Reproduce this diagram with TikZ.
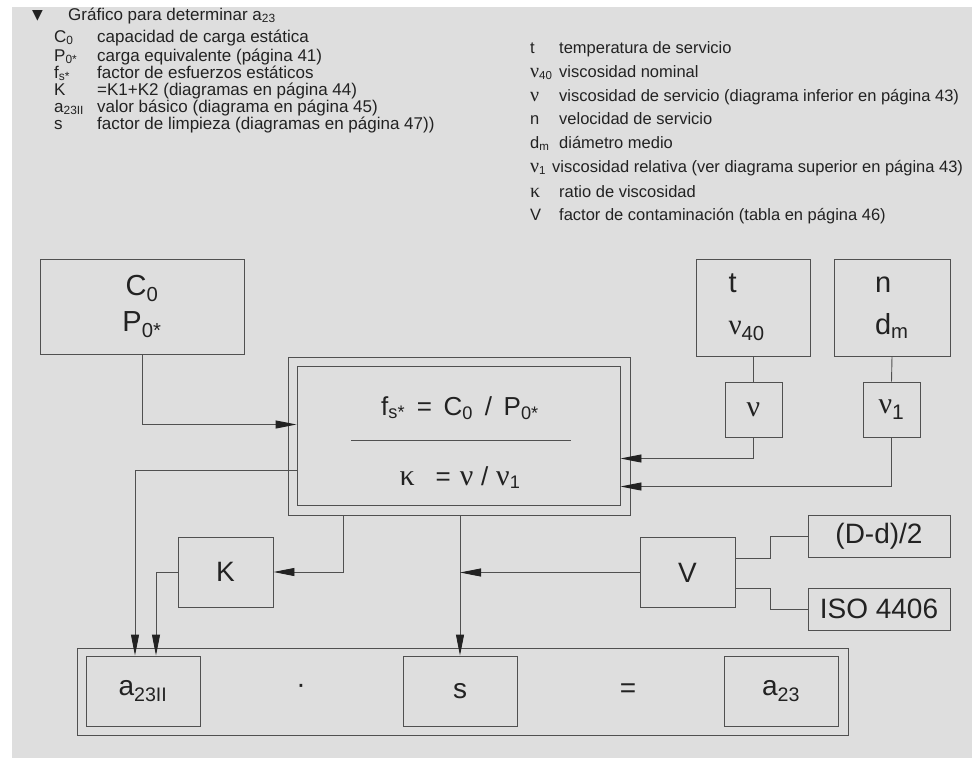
\documentclass[tikz,border=0pt]{standalone}
\usepackage{fontspec}
\setmainfont{Liberation Sans}
\newfontfamily\grk{Liberation Serif}
\newfontfamily\symfont{DejaVu Sans}
\usetikzlibrary{arrows.meta}
\definecolor{panelgray}{HTML}{DEDEDE}
\definecolor{linegray}{HTML}{505050}
\definecolor{inkgray}{HTML}{222222}
\newcommand{\gnu}{{\grk\fontsize{20}{20}\selectfont ν}}
\newcommand{\gkappa}{{\grk\fontsize{20}{20}\selectfont κ}}

\begin{document}
\begin{tikzpicture}[x=1pt,y=-1pt,
  box/.style={draw=linegray,line width=0.9pt,inner sep=0pt,text=inkgray,
    font=\fontsize{28}{34}\selectfont},
  wire/.style={draw=linegray,line width=0.9pt},
  arr/.style={wire,-{Triangle[length=21pt,width=8pt,color=inkgray]}},
  legl/.style={anchor=base west,inner sep=0pt,text=inkgray,font=\fontsize{17}{20}\selectfont},
  legr/.style={anchor=base west,inner sep=0pt,text=inkgray,font=\fontsize{16.5}{20}\selectfont},
  rowtext/.style={anchor=base,text=inkgray,font=\fontsize{26}{30}\selectfont},
  sign/.style={text=inkgray,font=\fontsize{28}{34}\selectfont}]
\useasboundingbox (0,0) rectangle (972,758);
% panel:
\fill[panelgray] (12,7) rectangle (972,758);
% legend, left:
\node[legl,font=\symfont\fontsize{14}{14}\selectfont] (tri) at (32,19) {▼};
\node[legl] (head) at (68,20) {Gráfico para determinar a\textsubscript{23}};
\node[legl] (symc) at (54,42) {C\textsubscript{0}};
\node[legl] (txtc) at (97,42) {capacidad de carga estática};
\node[legl] (symp) at (54,61) {P\textsubscript{0*}};
\node[legl] (txtp) at (97,61) {carga equivalente (página 41)};
\node[legl] (symf) at (54,78) {f\textsubscript{s*}};
\node[legl] (txtf) at (97,78) {factor de esfuerzos estáticos};
\node[legl] (symk) at (54,95) {K};
\node[legl] (txtk) at (97,95) {=K1+K2 (diagramas en página 44)};
\node[legl] (syma) at (54,112) {a\textsubscript{23II}};
\node[legl] (txta) at (97,112) {valor básico (diagrama en página 45)};
\node[legl] (syms) at (54,129) {s};
\node[legl] (txts) at (97,129) {factor de limpieza (diagramas en página 47))};
% legend, right:
\node[legr] (symt) at (530,53) {t};
\node[legr] (txtt) at (559,53) {temperatura de servicio};
\node[legr] (symn40) at (530,77) {\gnu\textsubscript{40}};
\node[legr] (txtn40) at (559,77) {viscosidad nominal};
\node[legr] (symnu) at (530,101) {\gnu};
\node[legr] (txtnu) at (559,101) {viscosidad de servicio (diagrama inferior en página 43)};
\node[legr] (symn) at (530,124) {n};
\node[legr] (txtn) at (559,124) {velocidad de servicio};
\node[legr] (symd) at (530,148) {d\textsubscript{m}};
\node[legr] (txtd) at (559,148) {diámetro medio};
\node[legr] (symn1) at (530,172) {\gnu\textsubscript{1}};
\node[legr] (txtn1) at (552,172) {viscosidad relativa (ver diagrama superior en página 43)};
\node[legr] (symkap) at (530,197) {\gkappa};
\node[legr] (txtkap) at (559,197) {ratio de viscosidad};
\node[legr] (symv) at (530,220) {V};
\node[legr] (txtv) at (559,220) {factor de contaminación (tabla en página 46)};
% input boxes:
\node[box,align=center,minimum width=204pt,minimum height=95pt,
  font=\fontsize{29}{36}\selectfont] (load) at (142,306.5)
  {C\textsubscript{0}\\P\textsubscript{0*}};
\node[box,align=left,text width=50pt,inner xsep=32pt,minimum height=97pt,
  font=\fontsize{29}{42}\selectfont] (temp) at (753.5,307.5)
  {t\\{\grk ν}\textsubscript{40}};
\node[box,align=left,text width=34pt,inner xsep=41pt,minimum height=97pt,
  font=\fontsize{29}{42}\selectfont] (speed) at (892,307.5)
  {n\\d\textsubscript{m}};
\node[box,minimum width=57pt,minimum height=55pt,font=\fontsize{30}{34}\selectfont] (nu) at (753.5,409.5) {{\grk ν}};
\node[box,minimum width=57pt,minimum height=55pt,font=\fontsize{30}{34}\selectfont] (nuone) at (891.5,409.5) {{\grk ν}\textsubscript{1}};
% formula box:
\node[box,minimum width=342pt,minimum height=158pt] (frame) at (459,436) {};
\node[box,minimum width=323pt,minimum height=139pt] (formula) at (458.5,435.5) {};
\node[rowtext] (fsrow) at (460,415)
  {f\textsubscript{s*}\hspace{0.45em}=\hspace{0.45em}C\textsubscript{0}\hspace{0.45em}/\hspace{0.45em}P\textsubscript{0*}};
\node[rowtext] (kaprow) at (460,485)
  {{\grk\fontsize{30}{30}\selectfont κ}\hspace{0.8em}=\hspace{0.35em}{\grk\fontsize{30}{30}\selectfont ν}\hspace{0.3em}/\hspace{0.3em}{\grk\fontsize{30}{30}\selectfont ν}\textsubscript{1}};
\draw[wire] ([xshift=-107.5pt,yshift=-4.5pt]formula.center) -- ([xshift=112.5pt,yshift=-4.5pt]formula.center);
% middle row:
\node[box,minimum width=95pt,minimum height=70pt] (kbox) at (225.5,572) {K};
\node[box,minimum width=95pt,minimum height=70pt] (vbox) at (687.5,572.5) {V};
\node[box,minimum width=142pt,minimum height=42pt] (gap) at (879,536) {(D-d)/2};
\node[box,minimum width=142pt,minimum height=42pt] (iso) at (879,609) {ISO 4406};
% result row:
\node[box,minimum width=771pt,minimum height=87pt] (result) at (462.5,691.5) {};
\node[box,minimum width=114pt,minimum height=70pt] (basic) at (143,691) {a\textsubscript{23II}};
\node[box,minimum width=114pt,minimum height=70pt] (clean) at (460,691) {s};
\node[box,minimum width=114pt,minimum height=70pt] (final) at (781,691) {a\textsubscript{23}};
\node[sign] (times) at (301,689) {·};
\node[sign] (equals) at (628,691) {=};
% connectors:
\draw[arr] (load.south) |- ([yshift=11pt]formula.west);
\draw[wire] (temp.south) -- (nu.north);
\draw[wire] (speed.south) -- (nuone.north);
\draw[arr] (nu.south) |- ([yshift=-23pt]formula.east);
\draw[arr] (nuone.south) |- ([yshift=-51pt]formula.east);
\draw[arr] ([yshift=-35pt]formula.west) -| ([xshift=-8pt]basic.north);
\draw[arr] ([xshift=-116pt]frame.south) |- (kbox.east);
\draw[arr] (kbox.west) -| ([xshift=13pt]basic.north);
\draw[arr] (clean.north |- frame.south) -- (clean.north);
\draw[arr] (vbox.west) -- (vbox.west -| clean.north);
\draw[wire] ([yshift=14.5pt]vbox.east) -- ++(35,0) |- (gap.west);
\draw[wire] ([yshift=-15.5pt]vbox.east) -- ++(35,0) |- (iso.west);
\end{tikzpicture}
\end{document}
